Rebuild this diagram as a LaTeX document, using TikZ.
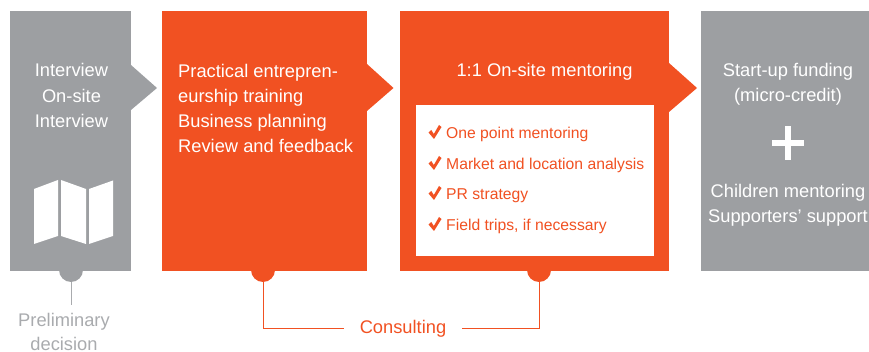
\documentclass[tikz,border=0pt]{standalone}
\usepackage{fontspec}
\setmainfont{Liberation Sans}
\definecolor{greybox}{HTML}{9D9FA2}
\definecolor{orangebox}{HTML}{F15122}
\definecolor{greytext}{HTML}{A9ABAE}
\tikzstyle{step box}=[draw=none, fill=#1, minimum height=260pt, inner sep=0pt, anchor=north west]
\tikzstyle{step dot}=[circle, fill=#1, minimum size=24pt, inner sep=0pt]
\tikzstyle{step text}=[text=white, inner sep=0pt, font=\fontsize{18.3}{25.3}\selectfont]
\tikzstyle{item text}=[text=orangebox, inner sep=0pt, anchor=base west, font=\fontsize{15.7}{18}\selectfont]
\tikzstyle{prelim text}=[text=greytext, inner sep=0pt, anchor=base, font=\fontsize{18.3}{25.3}\selectfont]
\begin{document}
\begin{tikzpicture}[x=1pt, y=-1pt]
		\useasboundingbox (0,0) rectangle (869,352);

		\node [step dot = greybox] (dotA) at (71,270) {};
		\node [step dot = orangebox] (dotB) at (263,270) {};
		\node [step dot = orangebox] (dotC) at (539,270) {};

		\node [step box = greybox, minimum width=121pt] (boxA) at (10,11) {};
		\node [step box = orangebox, minimum width=205pt] (boxB) at (162,11) {};
		\node [step box = orangebox, minimum width=269pt] (boxC) at (400,11) {};
		\node [step box = greybox, minimum width=168pt] (boxD) at (701,11) {};

		\fill [greybox] (131,65) -- (157,88) -- (131,110) -- cycle;
		\fill [orangebox] (367,64) -- (393.5,88) -- (367,111) -- cycle;
		\fill [orangebox] (669,63) -- (697,88) -- (669,112) -- cycle;

		\node [step text, align=center] (textA) at (71.5,95.5) {Interview\\On-site\\Interview};
		\node [step text, align=left, anchor=west] (textB) at (178,108.5) {Practical entrepren-\\eurship training\\Business planning\\Review and feedback};
		\node [step text] (textC) at (544.5,72) {1:1 On-site mentoring};
		\node [step text, align=center] (textD1) at (788,84.5) {Start-up funding\\(micro-credit)};
		\node [step text, align=center] (textD2) at (788,205.5) {Children mentoring\\Supporters’ support};

		% map
		\fill [white] (34,189) -- (58,180) -- (58,236) -- (34,244) -- cycle;
		\fill [white] (61,180) -- (86,189) -- (86,244) -- (61,236) -- cycle;
		\fill [white] (89,189) -- (113,180.5) -- (113,236) -- (89,244) -- cycle;

		% plus
		\fill [white] (772,140) rectangle (804,146);
		\fill [white] (785,126) rectangle (791,160);

		\node [fill=white, minimum width=238pt, minimum height=151pt, inner sep=0pt, anchor=north west] (list) at (416,105) {};
		\foreach \y/\name/\label in {138.5/one/One point mentoring, 169.5/two/Market and location analysis, 199.5/three/PR strategy, 230.5/four/{Field trips, if necessary}} {
			\node [item text] (\name) at (446,\y) {\label};
			\fill [orangebox] (428.5,\y-6) -- (434,\y+.5) -- (441.5,\y-11.5) -- (439,\y-13.5) -- (433.8,\y-4.5) -- (431.3,\y-8.5) -- cycle;
		}

		\node [prelim text] (prelimA) at (64,326) {Preliminary};
		\node [prelim text] (prelimB) at (64,350.5) {decision};
		\node [text=orangebox, inner ysep=0pt, inner xsep=16pt, font=\fontsize{18.3}{25.3}\selectfont] (consult) at (403,328.5) {Consulting};
		\coordinate (prelimtop) at (71,305);

		\draw [greytext, line width=1pt] (dotA) -- (prelimtop);
		\draw [orangebox, line width=1pt] (dotB) |- (consult);
		\draw [orangebox, line width=1pt] (dotC) |- (consult);
	\end{tikzpicture}
\end{document}
